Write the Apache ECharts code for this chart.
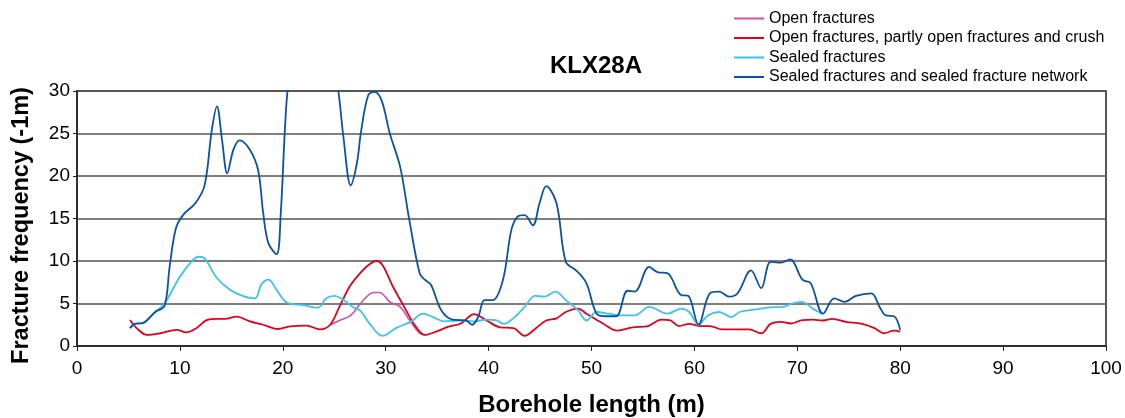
<!DOCTYPE html>
<html>
<head>
<meta charset="utf-8">
<script src="https://cdn.jsdelivr.net/npm/echarts@6/dist/echarts.min.js"></script>
<style>
  html, body { margin: 0; padding: 0; background: #fff; }
  #chart { width: 1125px; height: 418px; }
</style>
</head>
<body>
<div id="chart"></div>
<script>
// borehole length (m) and fracture frequency
const openX = [24.6, 25.5, 26.6, 27.7, 28.8, 29.4, 30.4, 31.4, 32.3, 33.3, 33.8];
const openY = [2.5, 3.0, 3.6, 5.2, 6.3, 6.3, 5.2, 4.6, 3.05, 1.5, 1.3];

const crushX = [5.15, 5.8, 6.8, 8.1, 9.7, 10.6, 11.6, 12.6, 13.6, 14.5, 15.5, 16.8, 18.1, 19.5, 20.7, 22.3, 23.6, 24.6,
  25.5, 26.5, 27.4, 28.3, 29.1, 29.7, 30.7, 31.8, 32.8, 33.8, 34.9, 36.2, 37.3, 38.6, 39.8, 41.1, 42.4, 43.5, 44.6,
  45.6, 46.6, 47.5, 48.7, 49.5, 51.1, 52.5, 54.0, 55.5, 56.8, 57.6, 58.5, 59.5, 60.5, 61.5, 62.7, 64.0, 65.3, 66.5,
  67.4, 68.4, 69.4, 70.5, 71.5, 72.5, 73.4, 74.7, 76.3, 77.5, 78.4, 79.4, 80.0];
const crushY = [3.05, 2.1, 1.3, 1.5, 1.9, 1.6, 2.1, 3.05, 3.2, 3.2, 3.45, 2.9, 2.5, 2.0, 2.3, 2.4, 1.95, 2.5,
  4.6, 7.0, 8.4, 9.5, 10.0, 9.5, 7.0, 4.6, 2.5, 1.3, 1.7, 2.3, 2.65, 3.75, 3.0, 2.2, 2.1, 1.2, 2.1,
  3.0, 3.25, 4.0, 4.4, 3.8, 2.65, 1.8, 2.2, 2.35, 3.1, 3.05, 2.35, 2.6, 2.35, 2.35, 1.95, 1.95, 1.95, 1.5,
  2.6, 2.85, 2.65, 3.05, 3.1, 3.0, 3.2, 2.85, 2.6, 2.1, 1.5, 1.8, 1.7];

const sealedX = [5.15, 5.6, 6.4, 7.6, 8.5, 10.0, 11.1, 11.8, 12.4, 13.6, 14.9, 16.1, 17.3, 17.9, 18.6, 19.4, 20.4, 22.0,
  23.4, 24.2, 25.0, 25.7, 26.8, 27.5, 28.4, 29.7, 31.0, 32.5, 33.6, 34.6, 35.7, 37.2, 38.5, 39.8, 40.7, 41.5, 42.4,
  43.5, 44.5, 45.4, 46.5, 47.5, 48.7, 49.5, 50.5, 51.7, 52.7, 54.2, 55.6, 57.4, 58.7, 59.5, 60.4, 61.3, 62.4, 63.6,
  64.4, 66.0, 67.3, 68.6, 69.5, 70.4, 71.5, 72.4];
const sealedY = [2.1, 2.6, 2.7, 4.0, 5.0, 8.15, 9.9, 10.5, 10.3, 8.0, 6.6, 5.9, 5.6, 7.2, 7.8, 6.6, 5.1, 4.8,
  4.5, 5.6, 5.9, 5.6, 4.6, 4.2, 2.7, 1.2, 2.1, 2.9, 3.8, 3.4, 2.9, 3.0, 2.9, 3.1, 3.05, 2.6, 3.25,
  4.6, 5.9, 5.8, 6.4, 5.4, 4.2, 3.0, 4.0, 3.8, 3.6, 3.6, 4.6, 3.8, 4.4, 4.0, 2.5, 3.6, 4.0, 3.4,
  4.0, 4.3, 4.55, 4.6, 5.0, 5.2, 4.4, 3.8];

const networkX = [5.15, 5.6, 6.4, 7.6, 8.5, 9.0, 9.6, 10.3, 11.5, 12.4, 13.1, 13.6, 14.1, 14.6, 15.2, 15.8, 16.8, 17.6,
  18.1, 18.6, 19.4, 19.8, 20.2, 20.5, 21.2, 23.0, 24.8, 25.4, 25.9, 26.6, 27.2, 27.6, 28.3, 28.9, 29.6, 30.4, 31.4,
  32.3, 33.3, 33.8, 34.4, 35.4, 36.5, 37.8, 38.4, 39.0, 39.6, 40.4, 41.4, 42.2, 42.8, 43.5, 44.3, 44.95, 45.6, 46.6,
  47.5, 48.5, 49.5, 50.5, 51.4, 52.4, 53.5, 54.2, 55.6, 56.4, 57.4, 58.7, 59.4, 60.4, 61.5, 62.4, 63.4, 64.2, 65.5,
  66.5, 67.4, 68.4, 69.3, 70.5, 71.3, 72.5, 73.6, 74.6, 75.7, 77.2, 78.0, 78.6, 79.4, 80.0];
const networkY = [2.1, 2.6, 2.7, 4.0, 4.7, 9.3, 13.8, 15.4, 16.8, 18.9, 25.4, 28.2, 24.2, 20.3, 23.1, 24.2, 23.1, 20.7,
  15.6, 12.1, 10.8, 15.6, 25.4, 30.5, 36, 40, 34, 30, 24.5, 18.9, 21.5, 25.2, 29.5, 29.9, 28.9, 25, 21.1,
  14.8, 8.55, 7.8, 7.2, 4.2, 3.1, 3.0, 2.5, 3.45, 5.4, 5.4, 7.8, 13.6, 15.2, 15.4, 14.2, 16.8, 18.8, 16.8,
  9.9, 8.9, 7.4, 3.8, 3.5, 3.5, 6.5, 6.4, 9.3, 8.7, 8.55, 6.0, 5.9, 2.5, 6.2, 6.4, 5.8, 6.2, 8.9,
  6.8, 9.9, 9.8, 10.2, 7.8, 7.4, 3.8, 5.6, 5.2, 5.9, 6.2, 4.6, 3.6, 3.5, 1.9];

const xTicks = { min: 0, max: 100, step: 10 };
const yTicks = { min: 0, max: 30, step: 5 };

function zip(xs, ys) {
  return xs.map((x, i) => [x, ys[i]]);
}

const font = '"Liberation Sans", Arial, sans-serif';
const tickFont = '"Liberation Sans Narrow", "Arial Narrow", "Liberation Sans", sans-serif';
const chart = echarts.init(document.getElementById('chart'), null, { renderer: 'canvas' });

function lineSeries(name, xs, ys, color, width) {
  return {
    name: name,
    type: 'line',
    data: zip(xs, ys),
    symbol: 'none',
    smooth: 0.35,
    clip: true,
    lineStyle: { color: color, width: width },
    itemStyle: { color: color },
    animation: false
  };
}

const option = {
  backgroundColor: '#fff',
  animation: false,
  title: {
    text: 'KLX28A',
    left: 591,
    top: 49,
    textAlign: 'center',
    textStyle: { fontFamily: font, fontSize: 24, fontWeight: 'bold', color: '#000' }
  },
  legend: {
    orient: 'vertical',
    left: 729,
    top: 5,
    icon: 'rect',
    itemWidth: 30,
    itemHeight: 2,
    itemGap: 2.5,
    textStyle: { fontFamily: font, fontSize: 16, color: '#000', lineHeight: 17 },
    data: ['Open fractures', 'Open fractures, partly open fractures and crush',
      'Sealed fractures', 'Sealed fractures and sealed fracture network']
  },
  grid: {
    left: 77,
    right: 19,
    top: 91,
    bottom: 72,
    show: true,
    borderColor: '#222',
    borderWidth: 1.5,
    containLabel: false,
    outerBoundsMode: 'none'
  },
  xAxis: {
    type: 'value',
    min: xTicks.min,
    max: xTicks.max,
    interval: xTicks.step,
    name: 'Borehole length (m)',
    nameLocation: 'middle',
    nameGap: 47,
    nameTextStyle: { fontFamily: font, fontSize: 24, fontWeight: 'bold', color: '#000' },
    axisLine: { lineStyle: { color: '#222', width: 1.5 } },
    axisTick: { show: true, length: 5, lineStyle: { color: '#222' } },
    axisLabel: { fontFamily: tickFont, fontSize: 19, color: '#000', margin: 13 },
    splitLine: { show: false }
  },
  yAxis: {
    type: 'value',
    min: yTicks.min,
    max: yTicks.max,
    interval: yTicks.step,
    name: 'Fracture frequency (-1m)',
    nameLocation: 'middle',
    nameGap: 43,
    nameRotate: 90,
    nameTextStyle: { fontFamily: font, fontSize: 23.5, fontWeight: 'bold', color: '#000', padding: [0, 14, 0, 0] },
    axisLine: { show: true, lineStyle: { color: '#222', width: 1.5 } },
    axisTick: { show: true, length: 4, lineStyle: { color: '#222' } },
    axisLabel: { fontFamily: tickFont, fontSize: 19, color: '#000', margin: 7 },
    splitLine: { show: true, lineStyle: { color: '#555', width: 1.5 } }
  },
  series: [
    lineSeries('Open fractures', openX, openY, '#d14fa6', 1.6),
    lineSeries('Open fractures, partly open fractures and crush', crushX, crushY, '#e3001b', 1.8),
    lineSeries('Sealed fractures', sealedX, sealedY, '#3fc1f0', 1.8),
    lineSeries('Sealed fractures and sealed fracture network', networkX, networkY, '#0a53a0', 1.8)
  ]
};

chart.setOption(option);
</script>
</body>
</html>
